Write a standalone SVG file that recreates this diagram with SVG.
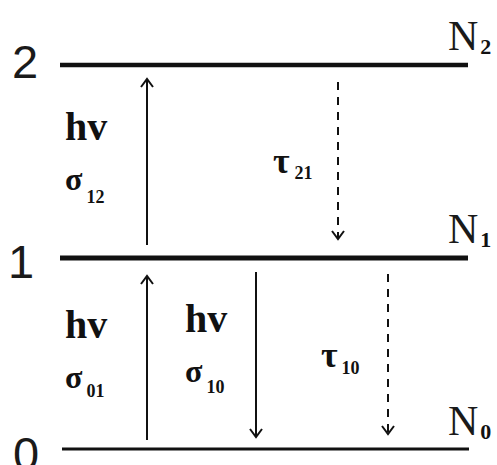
<svg xmlns="http://www.w3.org/2000/svg" width="497" height="465" viewBox="0 0 497 465">
<style>
.lvl{font-family:"Liberation Sans",Arial,sans-serif;font-size:47px;fill:#1a1a1a}
.N{font-family:"Liberation Serif","Times New Roman",serif;font-size:42px;fill:#1a1a1a}
.Nsub{font-family:"Liberation Serif","Times New Roman",serif;font-size:22px;font-weight:bold;fill:#111}
.hv{font-family:"Liberation Serif","Times New Roman",serif;font-size:40px;font-weight:bold;fill:#111}
.sig{font-family:"Liberation Serif","Times New Roman",serif;font-size:32px;font-weight:bold;fill:#111}
.sub{font-family:"Liberation Serif","Times New Roman",serif;font-size:18px;font-weight:bold;fill:#111}
.tau{font-family:"Liberation Serif","Times New Roman",serif;font-size:36px;font-weight:bold;fill:#111}
.lv{stroke:#111;fill:none}
.sol{stroke:#111;stroke-width:2;fill:none}
.dash{stroke:#111;stroke-width:2;fill:none;stroke-dasharray:8 7}
</style>
<defs>
<marker id="ah" markerUnits="userSpaceOnUse" markerWidth="20" markerHeight="20" refX="0" refY="0" viewBox="-10 -10 20 20" orient="auto" overflow="visible">
<path d="M-8,-6 L0,0 L-8,6" stroke="#111" stroke-width="2" fill="none"/>
</marker>
</defs>
<g id="level2">
<line class="lv" x1="60" y1="65" x2="468" y2="65" stroke-width="4.5"/>
<text class="lvl" x="12" y="78">2</text>
<text class="N" x="448" y="50">N<tspan class="Nsub" dx="2" dy="4">2</tspan></text>
</g>
<g id="level1">
<line class="lv" x1="60" y1="258" x2="468" y2="258" stroke-width="5"/>
<text class="lvl" x="8" y="278">1</text>
<text class="N" x="448" y="243">N<tspan class="Nsub" dx="2" dy="4">1</tspan></text>
</g>
<g id="level0">
<line class="lv" x1="62" y1="449" x2="469" y2="449" stroke-width="3"/>
<text class="lvl" x="13" y="470">0</text>
<text class="N" x="448" y="435">N<tspan class="Nsub" font-size="26" dx="2" dy="4">0</tspan></text>
</g>
<g id="labels">
<text class="hv" x="65" y="140">hv</text>
<text class="sig" x="65" y="190">σ<tspan class="sub" dx="4" dy="13">12</tspan></text>
<text class="hv" x="65" y="338">hv</text>
<text class="sig" x="65" y="388">σ<tspan class="sub" dx="4" dy="9">01</tspan></text>
<text class="hv" x="185" y="332">hv</text>
<text class="sig" x="185" y="382">σ<tspan class="sub" dx="4" dy="11">10</tspan></text>
<text class="tau" x="273" y="173">τ<tspan class="sub" font-size="16" dx="5" dy="6">21</tspan></text>
<text class="tau" x="321" y="367">τ<tspan class="sub" font-size="16" dx="4" dy="7">10</tspan></text>
</g>
<g id="connectors">
<line class="sol" x1="147" y1="245" x2="147" y2="79" marker-end="url(#ah)"/>
<line class="sol" x1="147" y1="440" x2="147" y2="276" marker-end="url(#ah)"/>
<line class="sol" x1="256" y1="272" x2="256" y2="437" marker-end="url(#ah)"/>
<line class="dash" x1="338" y1="82" x2="338" y2="239" marker-end="url(#ah)"/>
<line class="dash" x1="388" y1="274" x2="388" y2="434" marker-end="url(#ah)"/>
</g>
</svg>
